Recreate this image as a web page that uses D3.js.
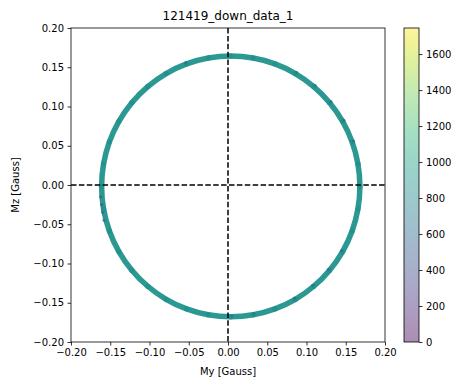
<!DOCTYPE html>
<html><head><meta charset="utf-8">
<script src="https://cdn.jsdelivr.net/npm/d3@7"></script>
<style>body{margin:0;background:#fff}svg{display:block}text{font-family:"DejaVu Sans",sans-serif;fill:#000}</style>
</head><body>
<script>
// ring samples (every 10 degrees)
const myVals = [0.1680,0.1655,0.1581,0.1460,0.1295,0.1092,0.0858,0.0598,0.0321,0.0035,-0.0251,-0.0528,-0.0788,-0.1022,-0.1225,-0.1390,-0.1511,-0.1585,-0.1610,-0.1585,-0.1511,-0.1390,-0.1225,-0.1022,-0.0788,-0.0528,-0.0251,0.0035,0.0321,0.0598,0.0858,0.1092,0.1295,0.1460,0.1581,0.1655];
const mzVals = [-0.0018,0.0270,0.0550,0.0812,0.1049,0.1254,0.1420,0.1542,0.1617,0.1642,0.1617,0.1542,0.1420,0.1254,0.1049,0.0812,0.0550,0.0270,-0.0018,-0.0306,-0.0586,-0.0848,-0.1085,-0.1290,-0.1456,-0.1578,-0.1653,-0.1678,-0.1653,-0.1578,-0.1456,-0.1290,-0.1085,-0.0848,-0.0586,-0.0306];
const cVals = [880,870,890,880,860,880,890,880,870,880,890,880,870,880,890,880,870,880,880,870,890,880,870,880,890,880,870,880,890,880,870,880,890,880,870,880];
// darker samples along the ring edge
const darkMy = [-0.1622,-0.1610,-0.1598,-0.1580,0.1598,0.1478,0.1312,0.1110,0.0875,-0.0540,0.1445,0.1280,0.1078,0.0846,0.0050,0.0330];
const darkMz = [-0.0150,-0.0250,-0.0350,-0.0450,0.0560,0.0822,0.1062,0.1268,0.1435,0.1556,-0.0838,-0.1075,-0.1278,-0.1442,-0.1668,-0.1640];
const darkC = [350,300,400,450,550,550,600,600,650,500,500,500,550,550,600,600];
const axisTicks = [-0.20,-0.15,-0.10,-0.05,0.00,0.05,0.10,0.15,0.20];
const cbTicks = [0,200,400,600,800,1000,1200,1400,1600];
const cMax = 1745;

const W=461,H=378;
const svg=d3.select("body").append("svg").attr("width",W).attr("height",H);
const L=71,R=385,T=28,B=342;
const x=d3.scaleLinear().domain([-0.2,0.2]).range([L,R]);
const y=d3.scaleLinear().domain([-0.2,0.2]).range([B,T]);
const col=d3.scaleSequential(d3.interpolateViridis).domain([0,cMax]);
const fmt=v=>{const s=Math.abs(v).toFixed(2);return v<-1e-9?"\u2212"+s:s;};

const ring=myVals.map((v,i)=>({x:v,y:mzVals[i],c:cVals[i]}));
const dark=darkMy.map((v,i)=>({x:v,y:darkMz[i],c:darkC[i]}));

const g=svg.append("g");
// ring body
const line=d3.line().x(d=>x(d.x)).y(d=>y(d.y)).curve(d3.curveCardinalClosed);
g.append("path").datum(ring).attr("d",line).attr("fill","none")
 .attr("stroke",col(880)).attr("stroke-width",5.5).attr("opacity",0.95);
g.selectAll("circle.r").data(ring).join("circle").attr("class","r")
 .attr("cx",d=>x(d.x)).attr("cy",d=>y(d.y)).attr("r",2.6)
 .attr("fill",d=>col(d.c)).attr("opacity",0.9);
// darker points along the edge
g.selectAll("circle.d").data(dark).join("circle").attr("class","d")
 .attr("cx",d=>x(d.x)).attr("cy",d=>y(d.y)).attr("r",1.6)
 .attr("fill",d=>col(d.c)).attr("opacity",0.55);

// dashed zero lines
g.append("line").attr("x1",L).attr("x2",R).attr("y1",y(0)).attr("y2",y(0))
 .attr("stroke","#000").attr("stroke-width",1.5).attr("stroke-dasharray","5.5,2.4");
g.append("line").attr("x1",x(0)).attr("x2",x(0)).attr("y1",T).attr("y2",B)
 .attr("stroke","#000").attr("stroke-width",1.5).attr("stroke-dasharray","5.5,2.4");

// frame
svg.append("rect").attr("x",L).attr("y",T).attr("width",R-L).attr("height",B-T)
 .attr("fill","none").attr("stroke","#000").attr("stroke-width",0.8);

// axes
const xa=svg.append("g").attr("transform",`translate(0,${B})`)
 .call(d3.axisBottom(x).tickValues(axisTicks).tickFormat(fmt).tickSize(3.5).tickPadding(3.5));
const ya=svg.append("g").attr("transform",`translate(${L},0)`)
 .call(d3.axisLeft(y).tickValues(axisTicks).tickFormat(fmt).tickSize(3.5).tickPadding(3.5));
[xa,ya].forEach(a=>{a.select(".domain").remove();a.selectAll("text").attr("font-size",10).attr("font-family","DejaVu Sans").attr("fill","#000");a.selectAll("line").attr("stroke","#000").attr("stroke-width",0.8);});

svg.append("text").attr("x",(L+R)/2).attr("y",20).attr("text-anchor","middle").attr("font-size",12).text("121419_down_data_1");
svg.append("text").attr("x",(L+R)/2).attr("y",375).attr("text-anchor","middle").attr("font-size",10).text("My [Gauss]");
svg.append("text").attr("transform",`translate(19,${(T+B)/2}) rotate(-90)`).attr("text-anchor","middle").attr("font-size",10).text("Mz [Gauss]");

// colorbar
const cbL=404,cbW=15;
const cy=d3.scaleLinear().domain([0,cMax]).range([B,T]);
const defs=svg.append("defs");
const grad=defs.append("linearGradient").attr("id","cb").attr("x1",0).attr("x2",0).attr("y1",1).attr("y2",0);
d3.range(0,1.0001,0.05).forEach(t=>grad.append("stop").attr("offset",t).attr("stop-color",d3.interpolateViridis(t)));
svg.append("rect").attr("x",cbL).attr("y",T).attr("width",cbW).attr("height",B-T).attr("fill","url(#cb)").attr("opacity",0.45);
svg.append("rect").attr("x",cbL).attr("y",T).attr("width",cbW).attr("height",B-T).attr("fill","none").attr("stroke","#000").attr("stroke-width",0.8);
const ca=svg.append("g").attr("transform",`translate(${cbL+cbW},0)`)
 .call(d3.axisRight(cy).tickValues(cbTicks).tickFormat(d3.format("d")).tickSize(3.5).tickPadding(3.5));
ca.select(".domain").remove();
ca.selectAll("text").attr("font-size",10).attr("font-family","DejaVu Sans").attr("fill","#000");
ca.selectAll("line").attr("stroke","#000").attr("stroke-width",0.8);
</script>
</body></html>
